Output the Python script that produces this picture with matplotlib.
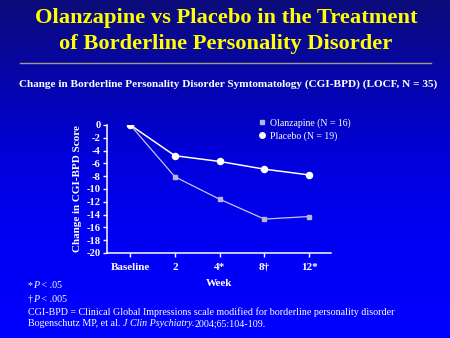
import numpy as np
import matplotlib
matplotlib.use("Agg")
import matplotlib.pyplot as plt
from matplotlib.colors import LinearSegmentedColormap

categories = ["Baseline", "2", "4*", "8\u2020", "12*"]
olanzapine = [0, -8.1, -11.6, -14.7, -14.3]
placebo = [0, -4.8, -5.7, -6.9, -7.8]
yticks = list(range(0, -21, -2))

W, H = 450, 338
fig = plt.figure(figsize=(W / 100, H / 100), dpi=100)

# background gradient
bg = fig.add_axes([0, 0, 1, 1])
grad = np.linspace(0, 1, 256).reshape(-1, 1)
cmap = LinearSegmentedColormap.from_list(
    "bg", [(0.0, "#0c0c7a"), (0.45, "#0000d8"), (0.7, "#0000f4"), (1.0, "#0000ff")])
bg.imshow(grad, aspect="auto", cmap=cmap, extent=[0, 1, 0, 1], origin="upper")
bg.set_xlim(0, 1); bg.set_ylim(0, 1)
bg.axis("off")

serif = "Liberation Serif"

def fx(px):
    return px / W

def fy(py):
    return 1 - py / H

fig.text(fx(226), fy(18), "Olanzapine vs Placebo in the Treatment", color="#ffff00",
         fontsize=16.2, fontweight="bold", family=serif, ha="center", va="center")
fig.text(fx(226), fy(44), "of Borderline Personality Disorder", color="#ffff00",
         fontsize=16.2, fontweight="bold", family=serif, ha="center", va="center")
bg.plot([fx(20), fx(431)], [fy(63), fy(63)], color="#9c9c88", lw=1)
fig.text(fx(228), fy(84), "Change in Borderline Personality Disorder Symtomatology (CGI-BPD) (LOCF, N = 35)",
         color="white", fontsize=8.1, fontweight="bold", family=serif, ha="center", va="center")

# axes: x from 107 to 331 px, y from 125 (0) to 253 (-20)
left, right = 107, 331
top, bottom = 125, 253
ax = fig.add_axes([fx(left), fy(bottom), (right - left) / W, (bottom - top) / H])
ax.patch.set_alpha(0)
x = np.arange(len(categories))
ax.plot(x, olanzapine, color="#c4c4ec", lw=0.9, marker="s", ms=3.2,
        mfc="#b4b4dc", mec="#b4b4dc", label="Olanzapine (N = 16)", zorder=3)
ax.plot(x, placebo, color="white", lw=1.1, marker="o", ms=4.4,
        mfc="white", mec="white", label="Placebo (N = 19)", zorder=4)
ax.set_xlim(-0.52, 4.49)
ax.set_ylim(-20, 0)
ax.set_yticks(yticks)
ax.set_yticklabels([str(v) for v in yticks])
ax.set_xticks(x)
ax.set_xticklabels(categories)
for s in ["top", "right"]:
    ax.spines[s].set_visible(False)
for s in ["left", "bottom"]:
    ax.spines[s].set_color("white")
    ax.spines[s].set_linewidth(1.1)
ax.tick_params(axis="y", colors="white", length=3, width=1, direction="out", pad=1.5)
ax.tick_params(axis="x", colors="white", length=3, width=1, direction="out", pad=4)
for t in ax.get_yticklabels():
    t.set_fontfamily(serif); t.set_fontsize(7.6); t.set_fontweight("bold"); t.set_color("white")
for t in ax.get_xticklabels():
    t.set_fontfamily(serif); t.set_fontsize(8); t.set_fontweight("bold"); t.set_color("white")
ax.set_ylabel("Change in CGI-BPD Score", color="white", fontsize=8, fontweight="bold",
              family=serif, labelpad=3)
ax.set_xlabel("Week", color="white", fontsize=8, fontweight="bold", family=serif, labelpad=5)
leg = ax.legend(loc="upper left", bbox_to_anchor=(fx(258), fy(118)), bbox_transform=fig.transFigure,
                frameon=False, prop={"family": serif, "size": 7}, handlelength=0.8,
                handletextpad=0.4, labelspacing=0.35, numpoints=1, markerscale=0.9,
                borderpad=0, borderaxespad=0)
for t in leg.get_texts():
    t.set_color("white")
for h in leg.legend_handles:
    h.set_linestyle("none")

fn = dict(color="white", fontsize=7.2, family=serif, ha="left", va="center")
fig.canvas.draw()
r = fig.canvas.get_renderer()

def seq(xpx, ypx, parts):
    xx = fx(xpx)
    for txt, it in parts:
        t = fig.text(xx, fy(ypx), txt, style="italic" if it else "normal", **fn)
        xx = t.get_window_extent(r).x1 / W

seq(28, 286, [("*", False), ("P", True), (" < .05", False)])
seq(28, 299, [("\u2020", False), ("P", True), (" < .005", False)])
seq(28, 312, [("CGI-BPD = Clinical Global Impressions scale modified for borderline personality disorder", False)])
seq(28, 324, [("Bogenschutz MP, et al. ", False), ("J Clin Psychiatry.", True), ("2004;65:104-109.", False)])

fig.savefig("out.png", dpi=100)
